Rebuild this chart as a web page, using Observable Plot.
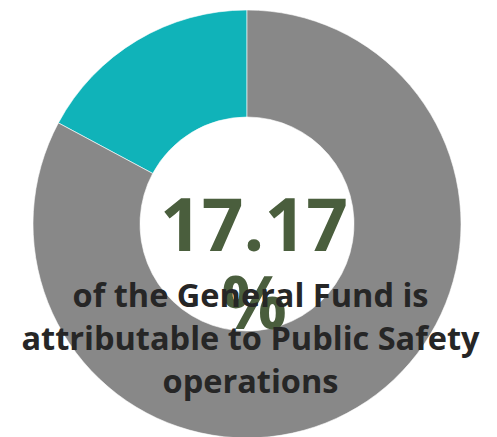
<!DOCTYPE html>
<html>
<head>
<meta charset="utf-8">
<script src="https://cdn.jsdelivr.net/npm/d3@7"></script>
<script src="https://cdn.jsdelivr.net/npm/@observablehq/plot@0.6"></script>
<style>
  html, body { margin: 0; padding: 0; background: #fff; }
  g[aria-label="headline"] text { letter-spacing: -5px; }
  g[aria-label="caption"] text { letter-spacing: -0.3px; }
</style>
</head>
<body>
<div id="chart"></div>
<script>
// Data
const categories = ["Public Safety", "Other"];
const values = [17.17, 82.83];
const colors = ["#10b3b9", "#888888"];
const headline = "17.17\n%";
const caption = "of the General Fund is\nattributable to Public Safety\noperations";

const data = categories.map((c, i) => ({category: c, value: values[i]}));

// Custom donut mark
function donut(data, {outer = 214, inner = 107, cx = 247, cy = 224} = {}) {
  return function (index, scales, vals, dimensions, context) {
    const pie = d3.pie().sort(null).value(d => d.value).startAngle(0).endAngle(-2 * Math.PI);
    const arc = d3.arc().innerRadius(inner).outerRadius(outer);
    const g = d3.create("svg:g").attr("transform", `translate(${cx},${cy})`);
    g.selectAll("path")
      .data(pie(data))
      .join("path")
      .attr("d", arc)
      .attr("fill", (d, i) => scales.color ? scales.color(d.data.category) : colors[i])
      .attr("stroke", "#ffffff")
      .attr("stroke-width", 0.6);
    return g.node();
  };
}

const chart = Plot.plot({
  width: 497,
  height: 437,
  margin: 0,
  x: {domain: [0, 1], axis: null},
  y: {domain: [0, 1], axis: null},
  color: {domain: categories, range: colors},
  style: {background: "#fff", overflow: "visible"},
  marks: [
    donut(data),
    Plot.text([headline], {
      text: d => d,
      ariaLabel: "headline",
      frameAnchor: "middle",
      dx: 5,
      dy: 46,
      fontSize: 73,
      fontWeight: 700,
      lineHeight: 1.07,
      fill: "#4a5e3d",
      fontFamily: "Open Sans"
    }),
    Plot.text([caption], {
      text: d => d,
      ariaLabel: "caption",
      frameAnchor: "middle",
      dx: 1.5,
      dy: 117,
      fontSize: 32.5,
      fontWeight: 700,
      lineHeight: 1.32,
      fill: "#262626",
      fontFamily: "Open Sans"
    })
  ]
});

document.getElementById("chart").append(chart);
</script>
</body>
</html>
